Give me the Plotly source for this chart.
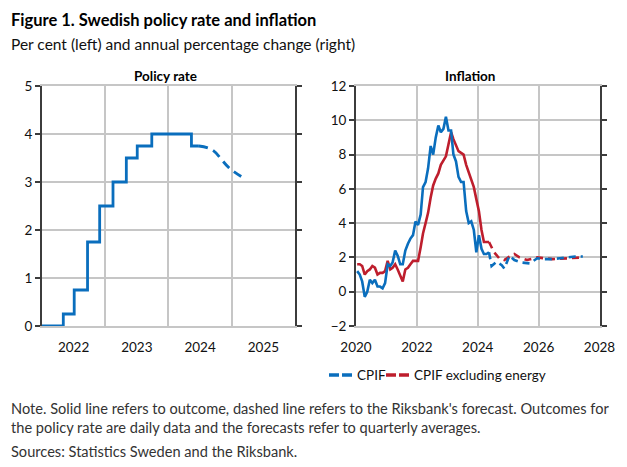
import plotly.graph_objects as go
import pandas as pd

# ---------------- data ----------------
policy_dates = ["2022-01-01", "2022-05-04", "2022-07-06", "2022-09-21", "2022-11-30",
                "2023-02-15", "2023-05-03", "2023-07-05", "2023-09-27", "2024-05-13", "2024-06-25"]
policy_values = [0.0, 0.25, 0.75, 1.75, 2.5, 3.0, 3.5, 3.75, 4.0, 3.75, 3.75]

policy_fc_dates = ["2024-06-25", "2024-09-10", "2024-12-15", "2025-03-25"]
policy_fc_values = [3.75, 3.67, 3.3, 3.05]

cpif = [1.2, 1.0, 0.6, -0.3, 0.0, 0.7, 0.5, 0.7, 0.3, 0.3, 0.2, 0.5,
        1.6, 1.5, 1.7, 2.4, 2.1, 1.6, 1.6, 2.4, 2.8, 3.1, 3.3, 4.1,
        3.9, 4.5, 6.1, 6.4, 7.2, 8.5, 8.0, 9.0, 9.7, 9.3, 9.5, 10.2,
        9.4, 9.4, 8.0, 7.6, 6.7, 6.4, 6.4, 4.7, 4.0, 4.1, 3.6, 2.3,
        3.3, 2.5, 2.2, 2.2, 2.3]
cpif_ex = [1.6, 1.6, 1.5, 1.0, 1.2, 1.3, 1.5, 1.4, 1.0, 1.1, 1.1, 1.2,
           1.8, 1.3, 1.4, 1.6, 1.3, 0.9, 0.6, 1.3, 1.4, 1.6, 1.8, 1.8,
           1.8, 2.6, 3.4, 4.0, 4.6, 5.5, 6.2, 6.6, 6.9, 7.4, 7.7, 7.9,
           8.6, 9.3, 8.9, 8.5, 8.2, 8.1, 8.0, 7.4, 7.0, 6.6, 6.1, 5.4,
           4.7, 3.6, 2.9, 2.9, 2.9]
outcome_start = "2020-01-01"

cpif_fc_dates = ["2024-05-15", "2024-06-15", "2024-08-15", "2024-10-15", "2024-11-15",
                 "2025-01-15", "2025-03-15", "2025-06-15", "2025-09-15", "2025-12-15",
                 "2026-03-15", "2026-06-15", "2026-09-15", "2026-12-15", "2027-03-15", "2027-06-15"]
cpif_fc = [2.3, 1.5, 1.75, 1.55, 1.35, 2.1, 1.85, 1.7, 1.65, 1.95,
           1.9, 1.9, 1.95, 2.0, 2.05, 2.05]

cpif_ex_fc_dates = ["2024-05-15", "2024-07-15", "2024-09-15", "2024-11-15", "2025-01-15",
                    "2025-03-15", "2025-05-15", "2025-08-15", "2025-12-15", "2026-06-15",
                    "2026-12-15", "2027-06-15"]
cpif_ex_fc = [2.9, 2.3, 1.95, 1.85, 2.05, 2.2, 2.0, 1.85, 2.0, 1.9, 1.95, 2.0]

right_year_labels = ["2020", "2022", "2024", "2026", "2028"]

# ---------------- styling ----------------
W, H = 627, 467
BLUE = "#0A6EBD"
RED = "#BE1E2D"
FONT = "Lato"
TXT = "#111111"
GRID = "#C6C6C6"
AXIS = "#3C3C3C"


def px(x):
    return x / W


def py(y):
    return 1 - y / H


months = pd.date_range(outcome_start, periods=len(cpif), freq="MS") + pd.Timedelta(days=14)

fig = go.Figure()

# Policy rate
fig.add_trace(go.Scatter(x=policy_dates, y=policy_values, mode="lines", line_shape="hv",
                         line=dict(color=BLUE, width=2.8), xaxis="x", yaxis="y", showlegend=False))
fig.add_trace(go.Scatter(x=policy_fc_dates, y=policy_fc_values, mode="lines", line_shape="spline",
                         line=dict(color=BLUE, width=2.8, dash="9px,6px"), xaxis="x", yaxis="y",
                         showlegend=False))

# Inflation
fig.add_trace(go.Scatter(x=months, y=cpif_ex, mode="lines", line=dict(color=RED, width=2.6),
                         xaxis="x2", yaxis="y2", showlegend=False))
fig.add_trace(go.Scatter(x=cpif_ex_fc_dates, y=cpif_ex_fc, mode="lines",
                         line=dict(color=RED, width=2.6, dash="7px,5px"), xaxis="x2", yaxis="y2",
                         showlegend=False))
fig.add_trace(go.Scatter(x=months, y=cpif, mode="lines", line=dict(color=BLUE, width=2.6),
                         xaxis="x2", yaxis="y2", showlegend=False))
fig.add_trace(go.Scatter(x=cpif_fc_dates, y=cpif_fc, mode="lines",
                         line=dict(color=BLUE, width=2.6, dash="7px,5px"), xaxis="x2", yaxis="y2",
                         showlegend=False))

tickfont = dict(family=FONT, size=13.5, color=TXT)

yaxis_common = dict(showgrid=True, gridcolor=GRID, gridwidth=2, zeroline=False,
                    showline=True, linecolor=AXIS, linewidth=2, mirror="ticks",
                    ticks="outside", ticklen=5, tickwidth=1.5, tickcolor=AXIS,
                    tickfont=tickfont, automargin=False, layer="above traces")

xaxis_common = dict(type="date", ticks="outside", ticklen=8, tickcolor="rgba(0,0,0,0)",
                    showgrid=True, gridcolor=GRID, gridwidth=2, zeroline=False,
                    showline=True, mirror=True, linecolor=GRID, linewidth=2,
                    tickfont=tickfont, automargin=False, layer="below traces")

fig.update_layout(
    width=W, height=H, autosize=False,
    margin=dict(l=0, r=0, t=0, b=0, pad=0, autoexpand=False),
    paper_bgcolor="white", plot_bgcolor="white",
    font=dict(family=FONT, color=TXT),
    showlegend=False,
    xaxis=dict(domain=[px(42), px(295)],
               range=["2022-01-01", "2026-01-01"],
               dtick="M12", tick0="2022-01-01", tickformat="%Y",
               ticklabelmode="period", anchor="y", **xaxis_common),
    yaxis=dict(domain=[py(326), py(86)], range=[0, 5], dtick=1, anchor="x", **yaxis_common),
    xaxis2=dict(domain=[px(356), px(599.5)],
                range=["2020-01-01", "2028-01-01"],
                tickmode="array",
                tickvals=[f"{y}-01-01" for y in right_year_labels],
                ticktext=right_year_labels, anchor="y2", **xaxis_common),
    yaxis2=dict(domain=[py(326), py(86)], range=[-2, 12], dtick=2, anchor="x2", **yaxis_common),
)

annotations = [
    dict(text="<b>Figure 1. Swedish policy rate and inflation</b>", x=px(9), y=py(20),
         font=dict(family=FONT, size=16.5, color="#000")),
    dict(text="Per cent (left) and annual percentage change (right)", x=px(9), y=py(44),
         font=dict(family=FONT, size=15.5, color=TXT)),
    dict(text="<b>Policy rate</b>", x=px(166), y=py(76), xanchor="center",
         font=dict(family=FONT, size=13.5, color="#000")),
    dict(text="<b>Inflation</b>", x=px(470), y=py(76), xanchor="center",
         font=dict(family=FONT, size=13.5, color="#000")),
    dict(text="CPIF", x=px(355), y=py(375),
         font=dict(family=FONT, size=13.5, color=TXT)),
    dict(text="CPIF excluding energy", x=px(412), y=py(375),
         font=dict(family=FONT, size=13.5, color=TXT)),
    dict(text="Note. Solid line refers to outcome, dashed line refers to the Riksbank's forecast. Outcomes for",
         x=px(9), y=py(408), font=dict(family=FONT, size=14.6, color="#333")),
    dict(text="the policy rate are daily data and the forecasts refer to quarterly averages.",
         x=px(9), y=py(427), font=dict(family=FONT, size=14.6, color="#333")),
    dict(text="Sources: Statistics Sweden and the Riksbank.",
         x=px(9), y=py(451), font=dict(family=FONT, size=14.6, color="#333")),
]
for a in annotations:
    a.setdefault("xanchor", "left")
    a.update(xref="paper", yref="paper", yanchor="middle", showarrow=False)
fig.update_layout(annotations=annotations)

# custom legend icons (dashed line samples)
shapes = []
for x0, col in [(329, BLUE), (386, RED)]:
    for seg in [(x0, x0 + 10), (x0 + 13, x0 + 23)]:
        shapes.append(dict(type="line", xref="paper", yref="paper",
                           x0=px(seg[0]), x1=px(seg[1]), y0=py(375), y1=py(375),
                           line=dict(color=col, width=3.5)))
fig.update_layout(shapes=shapes)

fig.write_html("out.html", config={"displayModeBar": False},
               post_script="document.body.style.margin='0';document.body.style.overflow='hidden';")
